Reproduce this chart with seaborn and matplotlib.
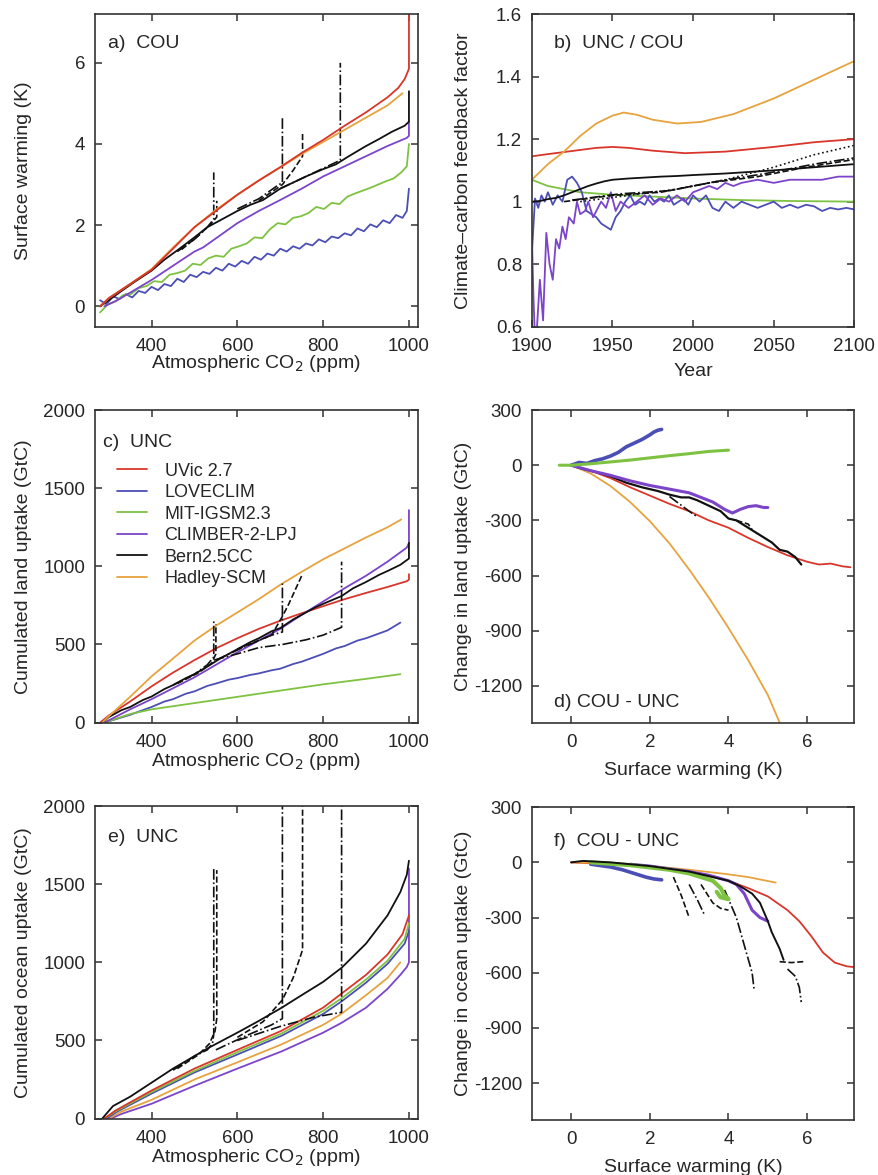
import matplotlib
matplotlib.use("Agg")
import matplotlib.pyplot as plt
import seaborn as sns
import numpy as np
import pandas as pd
from matplotlib.ticker import FuncFormatter

sns.set_style("ticks")
plt.rcParams['font.family'] = ['Liberation Sans', 'DejaVu Sans']
plt.rcParams['axes.unicode_minus'] = False
plt.rcParams['font.size'] = 13.5

RED = '#d9362b'
BLUE = '#4b4fb5'
GREEN = '#7ec242'
PURPLE = '#7b44c9'
BLACK = '#111111'
ORANGE = '#e6a33e'

models = ['UVic 2.7', 'LOVECLIM', 'MIT-IGSM2.3', 'CLIMBER-2-LPJ', 'Bern2.5CC', 'Hadley-SCM']

# ---------------- a) COU: surface warming vs CO2 ----------------
a_red_x = [280, 300, 350, 400, 450, 500, 550, 600, 650, 700, 750, 800, 850, 900, 950, 975, 990, 1000, 1000]
a_red_y = [0.0, 0.2, 0.55, 0.9, 1.42, 1.95, 2.35, 2.75, 3.1, 3.43, 3.78, 4.1, 4.45, 4.78, 5.15, 5.38, 5.6, 5.85, 7.25]
a_orange_x = [280, 300, 350, 400, 450, 500, 550, 600, 650, 700, 750, 800, 850, 900, 950, 985]
a_orange_y = [0.0, 0.2, 0.55, 0.92, 1.45, 1.95, 2.38, 2.75, 3.1, 3.42, 3.75, 4.05, 4.35, 4.65, 4.95, 5.25]
a_black_x = [280, 300, 330, 360, 400, 430, 460, 500, 530, 560, 600, 630, 660, 700, 730, 760, 800, 830,
             860, 900, 930, 960, 990, 1000, 1000]
a_black_y = [0.0, 0.15, 0.38, 0.6, 0.88, 1.15, 1.38, 1.7, 1.95, 2.12, 2.35, 2.5, 2.62, 2.9, 3.05, 3.2, 3.38,
             3.5, 3.7, 3.95, 4.12, 4.3, 4.45, 4.55, 5.3]
a_purple_x = [290, 320, 360, 400, 450, 500, 520, 560, 600, 650, 700, 750, 800, 850, 900, 950, 995, 1000, 1000]
a_purple_y = [0.0, 0.15, 0.4, 0.65, 1.0, 1.35, 1.45, 1.75, 2.05, 2.35, 2.62, 2.9, 3.2, 3.45, 3.7, 3.95, 4.15,
              4.2, 4.55]
a_green_x = [280, 298, 316, 334, 352, 370, 388, 406, 424, 442, 460, 478, 496, 514, 532, 550, 568, 586, 604,
             622, 640, 658, 676, 694, 712, 730, 748, 766, 784, 802, 820, 838, 856, 874, 892, 910, 928, 946,
             964, 982, 995, 1000]
a_green_y = [-0.15, 0.05, 0.12, 0.28, 0.3, 0.45, 0.5, 0.62, 0.6, 0.78, 0.82, 0.88, 1.05, 1.02, 1.18, 1.25,
             1.22, 1.42, 1.48, 1.55, 1.7, 1.68, 1.9, 2.05, 2.02, 2.18, 2.22, 2.3, 2.45, 2.4, 2.55, 2.52, 2.7,
             2.78, 2.85, 2.92, 3.0, 3.08, 3.15, 3.3, 3.45, 4.0]
a_blue_x = [280, 295, 310, 325, 340, 355, 370, 385, 400, 415, 430, 445, 460, 475, 490, 505, 520, 535, 550,
            565, 580, 595, 610, 625, 640, 655, 670, 685, 700, 715, 730, 745, 760, 775, 790, 805, 820, 835,
            850, 865, 880, 895, 910, 925, 940, 955, 970, 985, 995, 1000]
a_blue_y = [0.15, 0.05, 0.25, 0.18, 0.3, 0.22, 0.38, 0.33, 0.48, 0.4, 0.55, 0.5, 0.68, 0.6, 0.78, 0.72, 0.85,
            0.8, 0.95, 0.88, 1.05, 0.98, 1.12, 1.05, 1.22, 1.15, 1.3, 1.25, 1.42, 1.35, 1.48, 1.42, 1.55, 1.5,
            1.65, 1.58, 1.72, 1.68, 1.8, 1.75, 1.92, 1.85, 2.02, 1.95, 2.12, 2.05, 2.25, 2.18, 2.35, 2.9]
# Bern2.5CC stabilisation runs (black, broken lines)
a_stab = [
    ([460, 500, 530, 545, 545], [1.35, 1.65, 1.95, 2.15, 3.3], '-.'),
    ([470, 510, 540, 552, 552], [1.4, 1.75, 2.05, 2.2, 2.6], '--'),
    ([600, 650, 690, 705, 705], [2.4, 2.65, 2.95, 3.05, 4.7], '-.'),
    ([650, 705, 730, 752, 752], [2.6, 3.0, 3.35, 3.7, 4.3], '--'),
    ([700, 760, 800, 840, 840], [2.9, 3.2, 3.4, 3.6, 6.0], '-.'),
]

# ---------------- b) UNC / COU feedback factor vs year ----------------
b_orange_x = [1900, 1910, 1920, 1930, 1940, 1950, 1957, 1965, 1975, 1990, 2005, 2025, 2050, 2075, 2100]
b_orange_y = [1.07, 1.12, 1.16, 1.21, 1.25, 1.275, 1.285, 1.278, 1.262, 1.25, 1.255, 1.28, 1.33, 1.39, 1.45]
b_red_x = [1900, 1910, 1925, 1940, 1950, 1960, 1975, 1995, 2020, 2050, 2075, 2100]
b_red_y = [1.145, 1.152, 1.162, 1.172, 1.175, 1.172, 1.163, 1.155, 1.16, 1.175, 1.19, 1.2]
b_black_x = [1900, 1905, 1910, 1915, 1920, 1925, 1930, 1935, 1940, 1945, 1950, 1960, 1970, 1980, 1990, 2000,
             2020, 2050, 2075, 2100]
b_black_y = [1.0, 1.002, 1.008, 1.012, 1.02, 1.03, 1.04, 1.05, 1.058, 1.065, 1.07, 1.074, 1.077, 1.08, 1.082,
             1.085, 1.09, 1.1, 1.11, 1.12]
b_green_x = [1900, 1910, 1920, 1930, 1950, 1980, 2000, 2030, 2060, 2100]
b_green_y = [1.07, 1.05, 1.04, 1.03, 1.022, 1.015, 1.01, 1.005, 1.002, 1.0]
b_blue_x = [1900, 1902, 1904, 1906, 1908, 1910, 1913, 1916, 1919, 1922, 1925, 1928, 1931, 1934, 1937, 1940,
            1943, 1946, 1949, 1952, 1955, 1958, 1961, 1964, 1967, 1970, 1973, 1976, 1979, 1982, 1985, 1988,
            1991, 1994, 1997, 2000, 2004, 2008, 2012, 2016, 2020, 2025, 2030, 2035, 2040, 2045, 2050, 2055,
            2060, 2065, 2070, 2075, 2080, 2085, 2090, 2095, 2100]
b_blue_y = [0.83, 1.01, 0.98, 1.02, 1.0, 1.03, 0.99, 1.02, 1.0, 1.07, 1.08, 1.06, 1.03, 0.97, 0.96, 0.95, 0.93,
            0.92, 0.91, 0.95, 0.97, 1.0, 1.02, 0.99, 1.0, 0.99, 1.02, 1.0, 1.01, 1.0, 1.02, 0.99, 1.0, 1.01,
            0.99, 1.02, 1.0, 1.02, 0.98, 0.97, 1.0, 0.98, 1.0, 0.99, 0.98, 0.99, 1.0, 0.98, 0.99, 0.98, 0.99,
            0.985, 0.97, 0.98, 0.975, 0.98, 0.975]
b_purple_x = [1900, 1901, 1902, 1903, 1905, 1907, 1909, 1911, 1913, 1915, 1917, 1919, 1921, 1923, 1926, 1928,
              1930, 1933, 1935, 1938, 1940, 1943, 1946, 1949, 1952, 1955, 1960, 1965, 1970, 1975, 1980, 1985,
              1990, 1995, 2000, 2005, 2010, 2015, 2020, 2025, 2030, 2040, 2050, 2060, 2070, 2080, 2090, 2100]
b_purple_y = [0.9, 0.7, 0.55, 0.58, 0.75, 0.62, 0.9, 0.8, 0.75, 0.88, 0.85, 0.92, 0.88, 0.95, 0.93, 1.0, 0.96,
              0.97, 1.0, 0.95, 0.97, 1.0, 0.98, 1.03, 0.97, 1.0, 0.98, 1.0, 1.02, 0.99, 1.01, 1.0, 1.02, 1.0,
              1.03, 1.04, 1.05, 1.04, 1.06, 1.05, 1.06, 1.07, 1.06, 1.07, 1.07, 1.07, 1.08, 1.08]
b_stab = [
    ([1920, 1950, 1980, 2010, 2040, 2070, 2100], [1.0, 1.02, 1.03, 1.06, 1.08, 1.11, 1.135], '--'),
    ([1925, 1955, 1985, 2015, 2045, 2075, 2100], [1.005, 1.025, 1.035, 1.065, 1.09, 1.12, 1.14], '-.'),
    ([1930, 1960, 1990, 2020, 2050, 2075, 2100], [1.0, 1.02, 1.04, 1.07, 1.11, 1.15, 1.18], ':'),
]

# ---------------- c) UNC: cumulated land uptake vs CO2 ----------------
c_red_x = [280, 300, 350, 400, 450, 500, 550, 600, 650, 700, 750, 800, 850, 900, 950, 995, 1000, 1000]
c_red_y = [0, 45, 135, 232, 320, 400, 475, 540, 600, 652, 700, 745, 790, 830, 868, 905, 915, 950]
c_blue_x = [290, 320, 350, 380, 400, 430, 450, 480, 500, 530, 550, 580, 600, 630, 650, 680, 700, 730, 750,
            780, 800, 830, 850, 880, 900, 930, 950, 980]
c_blue_y = [0, 25, 50, 80, 100, 135, 150, 185, 200, 235, 250, 275, 285, 305, 315, 335, 345, 375, 390, 420,
            440, 475, 490, 525, 540, 570, 590, 640]
c_green_x = [290, 350, 400, 500, 600, 700, 800, 900, 980]
c_green_y = [0, 55, 85, 125, 165, 205, 245, 280, 310]
c_purple_x = [290, 350, 400, 450, 500, 550, 600, 650, 700, 750, 800, 850, 900, 950, 995, 1000, 1000]
c_purple_y = [0, 85, 150, 220, 290, 370, 450, 525, 600, 690, 775, 860, 940, 1030, 1120, 1150, 1360]
c_black_x = [285, 300, 330, 350, 380, 400, 430, 450, 480, 500, 531, 560, 600, 630, 650, 680, 700, 730,
             750, 780, 800, 843, 870, 900, 930, 950, 980, 990, 1000, 1000]
c_black_y = [0, 35, 80, 100, 145, 167, 215, 240, 285, 310, 360, 410, 470, 515, 540, 585, 605, 660, 690,
             735, 760, 810, 860, 900, 945, 970, 1010, 1030, 1050, 1150]
c_orange_x = [285, 300, 350, 400, 450, 500, 550, 600, 650, 700, 750, 800, 850, 900, 950, 982]
c_orange_y = [0, 40, 165, 296, 410, 525, 620, 705, 790, 882, 965, 1045, 1115, 1185, 1250, 1300]
c_stab = [
    ([450, 500, 530, 545, 545], [240, 310, 370, 420, 660], '-.'),
    ([460, 510, 540, 550, 550], [250, 320, 380, 440, 630], '--'),
    ([550, 620, 680, 705, 705], [400, 490, 560, 580, 890], '-.'),
    ([545, 600, 650, 705, 760, 800, 843, 843], [400, 440, 480, 500, 530, 560, 610, 1030], '-.'),
    ([600, 680, 705, 720, 750], [470, 560, 680, 760, 940], '--'),
]

# ---------------- d) COU - UNC: change in land uptake vs warming ----------------
d_orange_x = [0, 0.5, 1, 1.5, 2, 2.5, 3, 3.5, 4, 4.5, 5, 5.3]
d_orange_y = [0, -45, -113, -200, -304, -425, -567, -720, -885, -1060, -1250, -1400]
d_red_x = [0, 0.5, 1, 1.5, 2, 2.5, 3, 3.5, 4, 4.5, 5, 5.5, 6, 6.3, 6.6, 6.9, 7.1]
d_red_y = [0, -30, -70, -120, -165, -210, -250, -300, -340, -395, -445, -490, -525, -540, -535, -550, -555]
d_black_x = [0, 0.3, 0.6, 1.0, 1.4, 1.8, 2.2, 2.5, 2.8, 3.0, 3.2, 3.5, 3.8, 4.0, 4.2, 4.5, 4.8, 5.1, 5.3,
             5.5, 5.7, 5.85]
d_black_y = [0, -20, -35, -60, -95, -120, -140, -160, -175, -175, -190, -220, -250, -290, -300, -340, -380,
             -420, -460, -470, -500, -540]
d_purple_x = [0, 0.5, 1, 1.5, 2, 2.5, 3, 3.3, 3.6, 3.9, 4.1, 4.3, 4.5, 4.7, 4.9, 5.0]
d_purple_y = [0, -30, -55, -85, -110, -130, -150, -175, -200, -240, -260, -240, -225, -220, -230, -230]
d_blue_x = [0, 0.2, 0.4, 0.6, 0.8, 1.0, 1.2, 1.4, 1.6, 1.8, 2.0, 2.1, 2.2, 2.3]
d_blue_y = [0, 15, 10, 25, 35, 50, 70, 100, 120, 140, 165, 180, 190, 195]
d_green_x = [-0.3, 0, 0.5, 1, 1.5, 2, 2.5, 3, 3.5, 4.0]
d_green_y = [0, 0, 8, 18, 28, 40, 52, 63, 75, 82]
d_stab = [
    ([2.5, 3.0, 3.2], [-170, -250, -280], '-.'),
    ([4.2, 4.5, 4.6], [-300, -320, -350], '--'),
]

# ---------------- e) UNC: cumulated ocean uptake vs CO2 ----------------
e_black_x = [285, 310, 350, 400, 450, 500, 531, 600, 650, 703, 750, 800, 843, 900, 950, 980, 995, 1000]
e_black_y = [0, 80, 140, 230, 320, 400, 450, 550, 625, 709, 790, 875, 965, 1120, 1300, 1450, 1560, 1650]
e_red_x = [290, 315, 400, 500, 600, 703, 800, 843, 900, 950, 985, 1000]
e_red_y = [0, 50, 180, 320, 440, 562, 710, 800, 920, 1050, 1180, 1300]
e_green_x = [290, 315, 400, 500, 600, 703, 800, 843, 900, 950, 990, 1000]
e_green_y = [0, 45, 170, 305, 425, 545, 690, 770, 890, 1010, 1150, 1250]
e_blue_x = [295, 320, 400, 500, 600, 703, 800, 843, 900, 950, 990, 1000]
e_blue_y = [0, 45, 160, 295, 410, 530, 670, 750, 870, 990, 1120, 1200]
e_orange_x = [300, 330, 400, 500, 600, 703, 800, 843, 900, 950, 980]
e_orange_y = [0, 45, 120, 250, 360, 475, 600, 671, 790, 900, 1000]
e_purple_x = [305, 330, 400, 500, 600, 703, 800, 843, 900, 950, 980, 995, 1000, 1000]
e_purple_y = [0, 30, 95, 210, 320, 430, 550, 613, 710, 830, 920, 970, 1000, 1600]
e_stab = [
    ([450, 500, 530, 542, 545, 545], [310, 400, 440, 480, 540, 1600], '-.'),
    ([460, 510, 535, 548, 552, 552], [320, 410, 480, 560, 640, 1590], '--'),
    ([550, 620, 680, 705, 705], [440, 530, 600, 640, 2000], '-.'),
    ([600, 660, 705, 730, 752, 752], [520, 620, 760, 900, 1080, 2000], '--'),
    ([600, 700, 780, 843, 843], [500, 590, 650, 680, 2000], '-.'),
]

# ---------------- f) COU - UNC: change in ocean uptake vs warming ----------------
f_orange_x = [0, 1, 2, 3, 4, 4.5, 5.2]
f_orange_y = [0, -5, -20, -40, -65, -80, -110]
f_red_x = [0, 1, 2, 3, 3.5, 4, 4.5, 5, 5.5, 5.8, 6.1, 6.4, 6.7, 7.0, 7.2]
f_red_y = [0, -10, -25, -50, -70, -100, -140, -185, -260, -320, -400, -490, -545, -565, -570]
f_black_x = [0, 0.3, 1, 2, 2.5, 3, 3.5, 4, 4.3, 4.6, 4.8, 5.0, 5.1, 5.3, 5.4]
f_black_y = [0, 8, 0, -20, -35, -50, -75, -100, -130, -170, -220, -320, -380, -470, -530]
f_purple_x = [1.5, 2, 2.5, 3, 3.5, 4, 4.2, 4.4, 4.6, 4.8, 5.0]
f_purple_y = [-10, -20, -35, -50, -70, -100, -120, -170, -260, -300, -320]
f_blue_x = [0.5, 1, 1.3, 1.6, 1.9, 2.1, 2.3]
f_blue_y = [-10, -25, -40, -60, -80, -90, -95]
f_green_x = [0.5, 1.5, 2.5, 3, 3.3, 3.6, 3.8, 3.9, 4.0, 3.8, 3.7]
f_green_y = [0, -15, -40, -60, -80, -100, -140, -180, -200, -190, -160]
f_stab = [
    ([2.6, 2.8, 3.0], [-80, -180, -300], '--'),
    ([3.0, 3.2, 3.4], [-120, -200, -290], '-.'),
    ([3.3, 3.6, 3.8, 4.0], [-120, -220, -250, -260], '--'),
    ([3.9, 4.2, 4.4, 4.6, 4.65], [-150, -300, -450, -600, -690], '-.'),
    ([5.3, 5.6, 5.9], [-540, -545, -540], '--'),
    ([5.5, 5.7, 5.8, 5.85], [-580, -620, -680, -760], '-.'),
]


def line(ax, x, y, color, ls='-', lw=1.3, label=None):
    df = pd.DataFrame({'x': x, 'y': y})
    sns.lineplot(data=df, x='x', y='y', color=color, linestyle=ls, linewidth=lw,
                 sort=False, estimator=None, ax=ax, label=label, legend=False)


def stab(ax, runs):
    for x, y, ls in runs:
        line(ax, x, y, BLACK, ls=ls, lw=1.2)


def style(ax, xlim, ylim, xticks, yticks, xlabel, ylabel, xpad, ylab_x):
    ax.set_xlim(*xlim)
    ax.set_ylim(*ylim)
    ax.set_xticks(xticks)
    ax.set_yticks(yticks)
    ax.yaxis.set_major_formatter(FuncFormatter(lambda v, _: f'{v:g}'))
    ax.tick_params(direction='in', top=True, right=True, length=5, width=1.1,
                   labelsize=13.5, color='#333333')
    ax.tick_params(axis='x', pad=8)
    ax.tick_params(axis='y', pad=7)
    for s in ax.spines.values():
        s.set_visible(True)
        s.set_linewidth(1.2)
        s.set_color('#333333')
    ax.set_xlabel(xlabel, fontsize=14, labelpad=xpad)
    ax.set_ylabel(ylabel, fontsize=14)
    ax.yaxis.set_label_coords(ylab_x, 0.5)


fig = plt.figure(figsize=(8.79, 11.75), dpi=100)
w, h = 0.367, 0.266
ax_a = fig.add_axes([0.108, 0.722, w, h])
ax_b = fig.add_axes([0.605, 0.722, w, h])
ax_c = fig.add_axes([0.108, 0.385, w, h])
ax_d = fig.add_axes([0.605, 0.385, w, h])
ax_e = fig.add_axes([0.108, 0.048, w, h])
ax_f = fig.add_axes([0.605, 0.047, w, h])

co2_label = 'Atmospheric CO$_2$ (ppm)'
LEFT_LAB = -0.195
RIGHT_LAB = -0.186

# a
line(ax_a, a_blue_x, a_blue_y, BLUE)
line(ax_a, a_green_x, a_green_y, GREEN)
line(ax_a, a_purple_x, a_purple_y, PURPLE)
stab(ax_a, a_stab)
line(ax_a, a_black_x, a_black_y, BLACK)
line(ax_a, a_orange_x, a_orange_y, ORANGE)
line(ax_a, a_red_x, a_red_y, RED)
style(ax_a, (268, 1020), (-0.5, 7.2), [400, 600, 800, 1000], [0, 2, 4, 6], co2_label,
      'Surface warming (K)', -1, LEFT_LAB)
ax_a.text(0.04, 0.905, 'a)  COU', transform=ax_a.transAxes, fontsize=14, va='center')

# b
line(ax_b, b_green_x, b_green_y, GREEN)
line(ax_b, b_blue_x, b_blue_y, BLUE)
line(ax_b, b_purple_x, b_purple_y, PURPLE)
stab(ax_b, b_stab)
line(ax_b, b_black_x, b_black_y, BLACK)
line(ax_b, b_red_x, b_red_y, RED)
line(ax_b, b_orange_x, b_orange_y, ORANGE)
style(ax_b, (1900, 2100), (0.6, 1.6), [1900, 1950, 2000, 2050, 2100], [0.6, 0.8, 1.0, 1.2, 1.4, 1.6],
      'Year', 'Climate\u2013carbon feedback factor', 6, RIGHT_LAB)
ax_b.text(0.07, 0.905, 'b)  UNC / COU', transform=ax_b.transAxes, fontsize=14, va='center')

# c
line(ax_c, c_red_x, c_red_y, RED, label=models[0])
line(ax_c, c_blue_x, c_blue_y, BLUE, label=models[1])
line(ax_c, c_green_x, c_green_y, GREEN, label=models[2])
line(ax_c, c_purple_x, c_purple_y, PURPLE, label=models[3])
line(ax_c, c_black_x, c_black_y, BLACK, label=models[4])
line(ax_c, c_orange_x, c_orange_y, ORANGE, label=models[5])
stab(ax_c, c_stab)
style(ax_c, (268, 1020), (0, 2000), [400, 600, 800, 1000], [0, 500, 1000, 1500, 2000], co2_label,
      'Cumulated land uptake (GtC)', 0, LEFT_LAB)
ax_c.text(0.025, 0.895, 'c)  UNC', transform=ax_c.transAxes, fontsize=14, va='center')
handles, labels = ax_c.get_legend_handles_labels()
ax_c.legend(handles[:6], labels[:6], loc='upper left', bbox_to_anchor=(0.045, 0.855), frameon=False,
            fontsize=13, handlelength=1.7, handletextpad=0.95, labelspacing=0.25, borderaxespad=0)

# d
line(ax_d, d_orange_x, d_orange_y, ORANGE)
line(ax_d, d_red_x, d_red_y, RED)
stab(ax_d, d_stab)
line(ax_d, d_black_x, d_black_y, BLACK, lw=1.6)
line(ax_d, d_purple_x, d_purple_y, PURPLE, lw=2.2)
line(ax_d, d_blue_x, d_blue_y, BLUE, lw=2.6)
line(ax_d, d_green_x, d_green_y, GREEN, lw=2.2)
style(ax_d, (-1, 7.2), (-1400, 300), [0, 2, 4, 6], [-1200, -900, -600, -300, 0, 300],
      'Surface warming (K)', 'Change in land uptake (GtC)', 8, RIGHT_LAB)
ax_d.text(0.07, 0.065, 'd) COU - UNC', transform=ax_d.transAxes, fontsize=14, va='center')

# e
line(ax_e, e_purple_x, e_purple_y, PURPLE)
line(ax_e, e_orange_x, e_orange_y, ORANGE)
line(ax_e, e_blue_x, e_blue_y, BLUE)
line(ax_e, e_green_x, e_green_y, GREEN)
line(ax_e, e_red_x, e_red_y, RED)
stab(ax_e, e_stab)
line(ax_e, e_black_x, e_black_y, BLACK)
style(ax_e, (268, 1020), (0, 2000), [400, 600, 800, 1000], [0, 500, 1000, 1500, 2000], co2_label,
      'Cumulated ocean uptake (GtC)', 0, LEFT_LAB)
ax_e.text(0.04, 0.9, 'e)  UNC', transform=ax_e.transAxes, fontsize=14, va='center')

# f
line(ax_f, f_red_x, f_red_y, RED)
line(ax_f, f_orange_x, f_orange_y, ORANGE)
stab(ax_f, f_stab)
line(ax_f, f_blue_x, f_blue_y, BLUE, lw=2.6)
line(ax_f, f_purple_x, f_purple_y, PURPLE, lw=2.2)
line(ax_f, f_green_x, f_green_y, GREEN, lw=3.0)
line(ax_f, f_black_x, f_black_y, BLACK, lw=1.4)
style(ax_f, (-1, 7.2), (-1400, 300), [0, 2, 4, 6], [-1200, -900, -600, -300, 0, 300],
      'Surface warming (K)', 'Change in ocean uptake (GtC)', 8, RIGHT_LAB)
ax_f.text(0.07, 0.89, 'f)  COU - UNC', transform=ax_f.transAxes, fontsize=14, va='center')

fig.savefig('out.png', dpi=100)
